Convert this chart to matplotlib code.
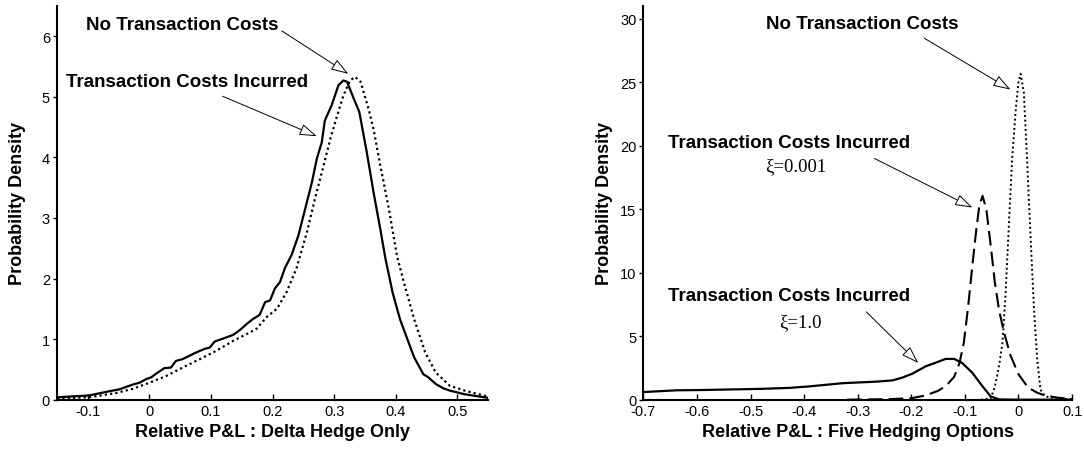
import numpy as np
import matplotlib
matplotlib.use('Agg')
import matplotlib.pyplot as plt

# P&L densities, delta hedge only
delta_tc_x = [-0.150, -0.098, -0.065, -0.049, -0.027, -0.016, -0.005, 0.003, 0.011, 0.024,
              0.035, 0.043, 0.054, 0.076, 0.090, 0.098, 0.106, 0.120, 0.136, 0.147,
              0.158, 0.168, 0.179, 0.188, 0.196, 0.204, 0.212, 0.220, 0.231, 0.242,
              0.253, 0.264, 0.272, 0.280, 0.285, 0.296, 0.307, 0.315, 0.321, 0.332,
              0.341, 0.353, 0.364, 0.375, 0.383, 0.395, 0.407, 0.419, 0.430, 0.445,
              0.453, 0.465, 0.477, 0.488, 0.512, 0.550]
delta_tc_y = [0.04, 0.07, 0.14, 0.17, 0.25, 0.28, 0.34, 0.37, 0.43, 0.52,
              0.53, 0.64, 0.67, 0.78, 0.84, 0.86, 0.96, 1.01, 1.07, 1.15,
              1.25, 1.33, 1.40, 1.61, 1.64, 1.84, 1.94, 2.17, 2.39, 2.71,
              3.15, 3.59, 3.98, 4.25, 4.61, 4.86, 5.19, 5.27, 5.25, 4.97,
              4.75, 4.09, 3.43, 2.82, 2.35, 1.77, 1.33, 1.00, 0.70, 0.42,
              0.37, 0.26, 0.19, 0.15, 0.09, 0.03]

delta_notc_x = [-0.150, -0.098, -0.054, -0.027, 0.000, 0.027, 0.054, 0.082, 0.109, 0.136,
                0.163, 0.174, 0.190, 0.207, 0.223, 0.239, 0.256, 0.269, 0.283, 0.294,
                0.305, 0.315, 0.326, 0.334, 0.343, 0.356, 0.364, 0.375, 0.389, 0.402,
                0.413, 0.430, 0.448, 0.465, 0.488, 0.512, 0.535, 0.550]
delta_notc_y = [0.02, 0.04, 0.11, 0.18, 0.28, 0.39, 0.53, 0.67, 0.81, 0.97,
                1.11, 1.17, 1.36, 1.50, 1.78, 2.17, 2.77, 3.32, 3.87, 4.31,
                4.69, 5.02, 5.27, 5.33, 5.25, 4.80, 4.47, 3.87, 3.15, 2.38,
                1.95, 1.33, 0.78, 0.45, 0.23, 0.15, 0.09, 0.05]

# P&L densities, five hedging options
five_xi1_x = [-0.700, -0.638, -0.595, -0.545, -0.483, -0.427, -0.390, -0.328, -0.266, -0.235,
              -0.216, -0.198, -0.173, -0.154, -0.136, -0.120, -0.105, -0.086, -0.067, -0.052,
              -0.036, 0.000, 0.100]
five_xi1_y = [0.60, 0.74, 0.76, 0.80, 0.85, 0.93, 1.05, 1.30, 1.42, 1.52,
              1.75, 2.05, 2.63, 2.92, 3.21, 3.21, 2.89, 2.11, 1.05, 0.26,
              0.02, 0.0, 0.0]

five_xi001_x = [-0.320, -0.235, -0.198, -0.173, -0.150, -0.135, -0.120, -0.110, -0.102, -0.094,
                -0.086, -0.079, -0.073, -0.067, -0.060, -0.052, -0.044, -0.036, -0.027, -0.015,
                0.000, 0.018, 0.035, 0.050, 0.075, 0.100]
five_xi001_y = [0.00, 0.05, 0.13, 0.34, 0.70, 1.10, 1.80, 2.90, 4.50, 7.30,
                10.6, 13.3, 15.3, 16.05, 15.0, 12.2, 9.2, 7.0, 5.3, 3.5,
                2.00, 0.95, 0.55, 0.32, 0.15, 0.05]

five_notc_x = [-0.070, -0.052, -0.045, -0.040, -0.035, -0.030, -0.024, -0.018, -0.012, -0.005,
               0.000, 0.004, 0.010, 0.016, 0.023, 0.029, 0.035, 0.041, 0.050, 0.070, 0.100]
five_notc_y = [0.0, 0.10, 0.90, 1.84, 3.0, 4.47, 8.4, 13.7, 18.9, 22.9,
               25.0, 25.66, 24.2, 18.9, 12.4, 7.1, 3.16, 0.79, 0.26, 0.10, 0.03]

left_xticks = [-0.1, 0.0, 0.1, 0.2, 0.3, 0.4, 0.5]
left_yticks = [0, 1, 2, 3, 4, 5, 6]
right_xticks = [-0.7, -0.6, -0.5, -0.4, -0.3, -0.2, -0.1, 0.0, 0.1]
right_yticks = [0, 5, 10, 15, 20, 25, 30]

plt.rcParams['font.family'] = ['Liberation Sans', 'DejaVu Sans']
plt.rcParams['axes.unicode_minus'] = False

fig = plt.figure(figsize=(10.84, 4.52), dpi=100)
ax1 = fig.add_axes([0.0526, 0.1135, 0.3976, 0.871])
ax2 = fig.add_axes([0.5935, 0.1135, 0.3955, 0.871])

dotted = (0, (1, 1.4))
arrow_kw = dict(arrowstyle='-|>,head_length=0.9,head_width=0.3', fc='white', ec='black',
                lw=0.7, mutation_scale=12, shrinkA=0, shrinkB=0)
bold = dict(fontsize=13.5, fontweight='bold', ha='center', va='center')
greek = dict(fontsize=13.5, family=['Liberation Serif', 'DejaVu Serif'], ha='center', va='center')


def style_axes(ax, xticks, yticks, xlim, ylim, xlabel):
    ax.set_xlim(*xlim)
    ax.set_ylim(*ylim)
    ax.set_xticks(xticks)
    ax.set_xticklabels(['{:g}'.format(round(t, 2)) for t in xticks])
    ax.set_yticks(yticks)
    ax.set_yticklabels([str(t) for t in yticks])
    ax.spines['top'].set_visible(False)
    ax.spines['right'].set_visible(False)
    ax.spines['left'].set_linewidth(1.5)
    ax.spines['bottom'].set_linewidth(1.5)
    ax.tick_params(axis='x', direction='in', length=4, width=1, pad=3, labelsize=10.5)
    ax.tick_params(axis='y', direction='out', length=3, width=1, pad=2, labelsize=10.5)
    ax.set_xlabel(xlabel, fontsize=13, fontweight='bold', labelpad=4)
    ax.set_ylabel('Probability Density', fontsize=13, fontweight='bold')
    ax.yaxis.set_label_coords(-0.071, 0.5)


# left: delta hedge only
ax1.plot(delta_tc_x, delta_tc_y, color='black', lw=1.6, ls='-')
ax1.plot(delta_notc_x, delta_notc_y, color='black', lw=1.6, ls=dotted)
style_axes(ax1, left_xticks, left_yticks, (-0.15, 0.55), (0, 6.5),
           'Relative P&L : Delta Hedge Only')
ax1.text(0.053, 6.19, 'No Transaction Costs', **bold)
ax1.annotate('', xy=(0.323, 5.38), xytext=(0.215, 6.09), arrowprops=arrow_kw)
ax1.text(0.062, 5.25, 'Transaction Costs Incurred', **bold)
ax1.annotate('', xy=(0.272, 4.35), xytext=(0.119, 5.01), arrowprops=arrow_kw)

# right: five hedging options
ax2.plot(five_xi1_x, five_xi1_y, color='black', lw=1.6, ls='-')
ax2.plot(five_xi001_x, five_xi001_y, color='black', lw=1.5, dashes=(7, 3))
ax2.plot(five_notc_x, five_notc_y, color='black', lw=1.4, ls=dotted)
style_axes(ax2, right_xticks, right_yticks, (-0.7, 0.1), (0, 31),
           'Relative P&L : Five Hedging Options')
ax2.text(-0.291, 29.6, 'No Transaction Costs', **bold)
ax2.annotate('', xy=(-0.015, 24.42), xytext=(-0.176, 28.47), arrowprops=arrow_kw)
ax2.text(-0.428, 20.26, 'Transaction Costs Incurred', **bold)
ax2.text(-0.415, 18.42, '\u03be=0.001', **greek)
ax2.annotate('', xy=(-0.086, 15.13), xytext=(-0.269, 19.0), arrowprops=arrow_kw)
ax2.text(-0.428, 8.21, 'Transaction Costs Incurred', **bold)
ax2.text(-0.407, 6.18, '\u03be=1.0', **greek)
ax2.annotate('', xy=(-0.187, 2.89), xytext=(-0.284, 6.92), arrowprops=arrow_kw)

plt.savefig('out.png', dpi=100)
